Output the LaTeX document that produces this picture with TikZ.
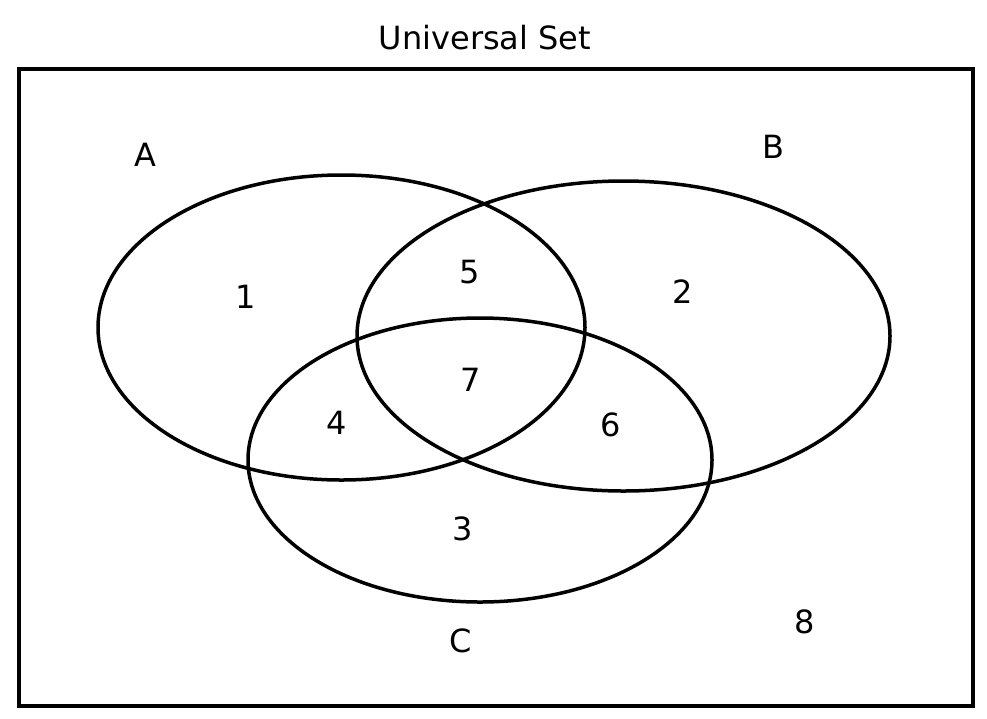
\documentclass[tikz,border=0pt]{standalone}
\usepackage{fontspec}
\setmainfont{DejaVu Sans}
\usetikzlibrary{shapes.geometric}
\begin{document}
\begin{tikzpicture}[x=1pt,y=-1pt,
  ring/.style={draw=black,line width=3.5pt},
  lab/.style={font=\fontsize{32}{36}\selectfont,inner sep=0pt}]
\useasboundingbox (0,0) rectangle (987,718);
\node[draw=black,line width=3.5pt,minimum width=954pt,minimum height=637pt,inner sep=0pt] (U) at (496,387.5) {};
\node[lab] (title) at (485,38) {Universal Set};
\node[ring,ellipse,minimum width=487pt,minimum height=305pt,inner sep=0pt] (EA) at (341.5,327.5) {};
\node[ring,ellipse,minimum width=533pt,minimum height=310pt,inner sep=0pt] (EB) at (623.5,336) {};
\node[ring,ellipse,minimum width=464pt,minimum height=284pt,inner sep=0pt] (EC) at (480,460) {};
\node[lab] (A) at (145,155) {A};
\node[lab] (B) at (773,147) {B};
\node[lab] (C) at (461,641) {C};
\node[lab] (n1) at (246,297) {1};
\node[lab] (n2) at (683,292) {2};
\node[lab] (n3) at (463,529) {3};
\node[lab] (n4) at (337,423) {4};
\node[lab] (n5) at (470,272) {5};
\node[lab] (n6) at (611,425) {6};
\node[lab] (n7) at (471,380) {7};
\node[lab] (n8) at (805,622) {8};
\end{tikzpicture}
\end{document}
